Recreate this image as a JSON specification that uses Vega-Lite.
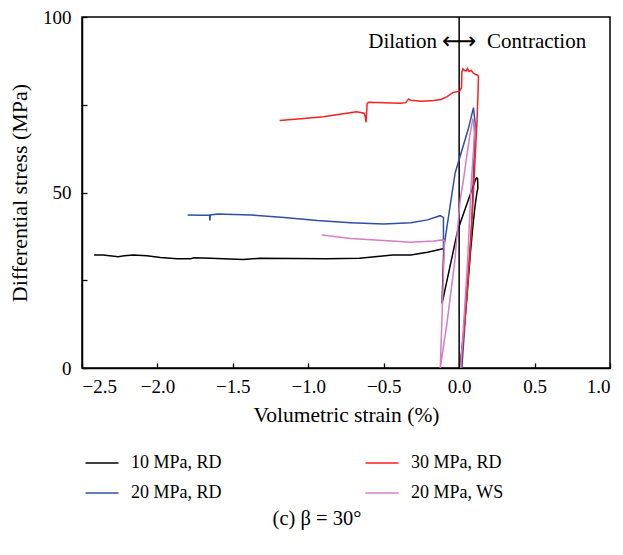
{
  "$schema": "https://vega.github.io/schema/vega-lite/v6.json",
  "width": 528,
  "height": 351,
  "autosize": {"type": "none"},
  "padding": {"left": 82, "top": 17, "right": 13, "bottom": 187},
  "background": "white",
  "config": {
    "font": "Liberation Serif",
    "view": {"stroke": "black", "strokeWidth": 1.5},
    "axis": {
      "grid": false,
      "domainColor": "black",
      "domainWidth": 1.5,
      "tickColor": "black",
      "tickWidth": 1.3,
      "tickSize": -5,
      "labelColor": "black",
      "labelFont": "Liberation Serif",
      "labelFontSize": 19,
      "titleFont": "Liberation Serif",
      "titleFontWeight": "normal",
      "titleColor": "black"
    },
    "legend": {
      "labelFont": "Liberation Serif",
      "labelFontSize": 18,
      "labelColor": "black"
    }
  },
  "title": {
    "text": "(c)  β = 30°",
    "orient": "bottom",
    "anchor": "middle",
    "font": "Liberation Serif",
    "fontSize": 20.5,
    "fontWeight": "normal",
    "color": "black",
    "offset": 7,
    "dx": -29
  },
  "datasets": {
    "curves": [
      {"s": "10 MPa, RD", "i": 1, "x": 0.005, "y": 0},
      {"s": "10 MPa, RD", "i": 2, "x": 0.03, "y": 10},
      {"s": "10 MPa, RD", "i": 3, "x": 0.055, "y": 22},
      {"s": "10 MPa, RD", "i": 4, "x": 0.075, "y": 33},
      {"s": "10 MPa, RD", "i": 5, "x": 0.09, "y": 40},
      {"s": "10 MPa, RD", "i": 6, "x": 0.105, "y": 46},
      {"s": "10 MPa, RD", "i": 7, "x": 0.118, "y": 50},
      {"s": "10 MPa, RD", "i": 8, "x": 0.124, "y": 51.2},
      {"s": "10 MPa, RD", "i": 9, "x": 0.122, "y": 54},
      {"s": "10 MPa, RD", "i": 10, "x": 0.115, "y": 54.2},
      {"s": "10 MPa, RD", "i": 11, "x": 0.108, "y": 53.6},
      {"s": "10 MPa, RD", "i": 12, "x": -0.009, "y": 39.3},
      {"s": "10 MPa, RD", "i": 13, "x": -0.113, "y": 18.4},
      {"s": "10 MPa, RD", "i": 14, "x": -0.102, "y": 33.9},
      {"s": "10 MPa, RD", "i": 15, "x": -0.115, "y": 33.9},
      {"s": "10 MPa, RD", "i": 16, "x": -0.21, "y": 33.0},
      {"s": "10 MPa, RD", "i": 17, "x": -0.32, "y": 32.2},
      {"s": "10 MPa, RD", "i": 18, "x": -0.44, "y": 32.2},
      {"s": "10 MPa, RD", "i": 19, "x": -0.66, "y": 31.3},
      {"s": "10 MPa, RD", "i": 20, "x": -0.88, "y": 31.1},
      {"s": "10 MPa, RD", "i": 21, "x": -1.10, "y": 31.2},
      {"s": "10 MPa, RD", "i": 22, "x": -1.32, "y": 31.3},
      {"s": "10 MPa, RD", "i": 23, "x": -1.43, "y": 30.9},
      {"s": "10 MPa, RD", "i": 24, "x": -1.65, "y": 31.3},
      {"s": "10 MPa, RD", "i": 25, "x": -1.76, "y": 31.4},
      {"s": "10 MPa, RD", "i": 26, "x": -1.78, "y": 31.1},
      {"s": "10 MPa, RD", "i": 27, "x": -1.87, "y": 31.1},
      {"s": "10 MPa, RD", "i": 28, "x": -1.98, "y": 31.5},
      {"s": "10 MPa, RD", "i": 29, "x": -2.07, "y": 32.0},
      {"s": "10 MPa, RD", "i": 30, "x": -2.16, "y": 32.2},
      {"s": "10 MPa, RD", "i": 31, "x": -2.22, "y": 32.0},
      {"s": "10 MPa, RD", "i": 32, "x": -2.26, "y": 31.7},
      {"s": "10 MPa, RD", "i": 33, "x": -2.36, "y": 32.2},
      {"s": "10 MPa, RD", "i": 34, "x": -2.42, "y": 32.2},

      {"s": "20 MPa, RD", "i": 1, "x": 0.018, "y": 0},
      {"s": "20 MPa, RD", "i": 2, "x": 0.04, "y": 13.7},
      {"s": "20 MPa, RD", "i": 3, "x": 0.062, "y": 28},
      {"s": "20 MPa, RD", "i": 4, "x": 0.084, "y": 41.2},
      {"s": "20 MPa, RD", "i": 5, "x": 0.095, "y": 55.4},
      {"s": "20 MPa, RD", "i": 6, "x": 0.106, "y": 69.7},
      {"s": "20 MPa, RD", "i": 7, "x": 0.095, "y": 74.2},
      {"s": "20 MPa, RD", "i": 8, "x": 0.06, "y": 68},
      {"s": "20 MPa, RD", "i": 9, "x": -0.027, "y": 55.5},
      {"s": "20 MPa, RD", "i": 10, "x": -0.104, "y": 33.6},
      {"s": "20 MPa, RD", "i": 11, "x": -0.104, "y": 42.9},
      {"s": "20 MPa, RD", "i": 12, "x": -0.126, "y": 43.4},
      {"s": "20 MPa, RD", "i": 13, "x": -0.21, "y": 42.2},
      {"s": "20 MPa, RD", "i": 14, "x": -0.32, "y": 41.4},
      {"s": "20 MPa, RD", "i": 15, "x": -0.50, "y": 41.0},
      {"s": "20 MPa, RD", "i": 16, "x": -0.72, "y": 41.4},
      {"s": "20 MPa, RD", "i": 17, "x": -0.94, "y": 42.0},
      {"s": "20 MPa, RD", "i": 18, "x": -1.16, "y": 42.9},
      {"s": "20 MPa, RD", "i": 19, "x": -1.38, "y": 43.6},
      {"s": "20 MPa, RD", "i": 20, "x": -1.60, "y": 43.9},
      {"s": "20 MPa, RD", "i": 21, "x": -1.65, "y": 43.6},
      {"s": "20 MPa, RD", "i": 22, "x": -1.652, "y": 42.0},
      {"s": "20 MPa, RD", "i": 23, "x": -1.655, "y": 43.6},
      {"s": "20 MPa, RD", "i": 24, "x": -1.70, "y": 43.5},
      {"s": "20 MPa, RD", "i": 25, "x": -1.80, "y": 43.6},

      {"s": "30 MPa, RD", "i": 1, "x": 0.01, "y": 0},
      {"s": "30 MPa, RD", "i": 2, "x": 0.04, "y": 14.5},
      {"s": "30 MPa, RD", "i": 3, "x": 0.073, "y": 33.5},
      {"s": "30 MPa, RD", "i": 4, "x": 0.095, "y": 50},
      {"s": "30 MPa, RD", "i": 5, "x": 0.106, "y": 60},
      {"s": "30 MPa, RD", "i": 6, "x": 0.118, "y": 70},
      {"s": "30 MPa, RD", "i": 7, "x": 0.125, "y": 78},
      {"s": "30 MPa, RD", "i": 8, "x": 0.128, "y": 83.1},
      {"s": "30 MPa, RD", "i": 9, "x": 0.12, "y": 83.5},
      {"s": "30 MPa, RD", "i": 10, "x": 0.11, "y": 83.6},
      {"s": "30 MPa, RD", "i": 11, "x": 0.095, "y": 84.0},
      {"s": "30 MPa, RD", "i": 12, "x": 0.08, "y": 84.8},
      {"s": "30 MPa, RD", "i": 13, "x": 0.065, "y": 84.5},
      {"s": "30 MPa, RD", "i": 14, "x": 0.055, "y": 85.3},
      {"s": "30 MPa, RD", "i": 15, "x": 0.045, "y": 84.6},
      {"s": "30 MPa, RD", "i": 16, "x": 0.035, "y": 84.8},
      {"s": "30 MPa, RD", "i": 17, "x": 0.025, "y": 85.2},
      {"s": "30 MPa, RD", "i": 18, "x": 0.018, "y": 84.3},
      {"s": "30 MPa, RD", "i": 19, "x": 0.016, "y": 80},
      {"s": "30 MPa, RD", "i": 20, "x": 0.005, "y": 79},
      {"s": "30 MPa, RD", "i": 21, "x": 0.0, "y": 78.8},
      {"s": "30 MPa, RD", "i": 22, "x": -0.04, "y": 78.5},
      {"s": "30 MPa, RD", "i": 23, "x": -0.08, "y": 77.3},
      {"s": "30 MPa, RD", "i": 24, "x": -0.12, "y": 76.5},
      {"s": "30 MPa, RD", "i": 25, "x": -0.17, "y": 76.2},
      {"s": "30 MPa, RD", "i": 26, "x": -0.25, "y": 76.0},
      {"s": "30 MPa, RD", "i": 27, "x": -0.32, "y": 76.3},
      {"s": "30 MPa, RD", "i": 28, "x": -0.335, "y": 76.6},
      {"s": "30 MPa, RD", "i": 29, "x": -0.355, "y": 75.6},
      {"s": "30 MPa, RD", "i": 30, "x": -0.39, "y": 75.4},
      {"s": "30 MPa, RD", "i": 31, "x": -0.5, "y": 75.6},
      {"s": "30 MPa, RD", "i": 32, "x": -0.6, "y": 75.7},
      {"s": "30 MPa, RD", "i": 33, "x": -0.61, "y": 75.3},
      {"s": "30 MPa, RD", "i": 34, "x": -0.617, "y": 70},
      {"s": "30 MPa, RD", "i": 35, "x": -0.622, "y": 71.5},
      {"s": "30 MPa, RD", "i": 36, "x": -0.63, "y": 72.6},
      {"s": "30 MPa, RD", "i": 37, "x": -0.68, "y": 73.0},
      {"s": "30 MPa, RD", "i": 38, "x": -0.8, "y": 72.2},
      {"s": "30 MPa, RD", "i": 39, "x": -0.9, "y": 71.6},
      {"s": "30 MPa, RD", "i": 40, "x": -1.05, "y": 71.0},
      {"s": "30 MPa, RD", "i": 41, "x": -1.19, "y": 70.5},

      {"s": "20 MPa, WS", "i": 1, "x": 0.01, "y": 0},
      {"s": "20 MPa, WS", "i": 2, "x": 0.035, "y": 16},
      {"s": "20 MPa, WS", "i": 3, "x": 0.058, "y": 32},
      {"s": "20 MPa, WS", "i": 4, "x": 0.08, "y": 52.6},
      {"s": "20 MPa, WS", "i": 5, "x": 0.095, "y": 62},
      {"s": "20 MPa, WS", "i": 6, "x": 0.101, "y": 66.9},
      {"s": "20 MPa, WS", "i": 7, "x": 0.095, "y": 70.5},
      {"s": "20 MPa, WS", "i": 8, "x": 0.09, "y": 70.8},
      {"s": "20 MPa, WS", "i": 9, "x": 0.07, "y": 66},
      {"s": "20 MPa, WS", "i": 10, "x": 0.05, "y": 60.2},
      {"s": "20 MPa, WS", "i": 11, "x": 0.03, "y": 54},
      {"s": "20 MPa, WS", "i": 12, "x": 0.007, "y": 47.9},
      {"s": "20 MPa, WS", "i": 13, "x": -0.03, "y": 30},
      {"s": "20 MPa, WS", "i": 14, "x": -0.08, "y": 13},
      {"s": "20 MPa, WS", "i": 15, "x": -0.125, "y": 0},
      {"s": "20 MPa, WS", "i": 16, "x": -0.097, "y": 36.2},
      {"s": "20 MPa, WS", "i": 17, "x": -0.108, "y": 36.5},
      {"s": "20 MPa, WS", "i": 18, "x": -0.17, "y": 36.2},
      {"s": "20 MPa, WS", "i": 19, "x": -0.32, "y": 35.8},
      {"s": "20 MPa, WS", "i": 20, "x": -0.50, "y": 36.3},
      {"s": "20 MPa, WS", "i": 21, "x": -0.72, "y": 36.9},
      {"s": "20 MPa, WS", "i": 22, "x": -0.91, "y": 37.9}
    ]
  },
  "layer": [
    {
      "data": {"values": [{"x": 0}]},
      "mark": {"type": "rule", "color": "black", "strokeWidth": 1.5},
      "encoding": {
        "x": {"field": "x", "type": "quantitative", "scale": {"domain": [-2.5, 1.0], "nice": false}}
      }
    },
    {
      "data": {"name": "curves"},
      "mark": {"type": "line", "strokeWidth": 1.5, "clip": true},
      "encoding": {
        "x": {
          "field": "x",
          "type": "quantitative",
          "scale": {"domain": [-2.5, 1.0], "nice": false},
          "axis": {
            "title": "Volumetric strain (%)",
            "titleFontSize": 21.5,
            "values": [-2.5, -2.25, -2.0, -1.75, -1.5, -1.25, -1.0, -0.75, -0.5, -0.25, 0, 0.25, 0.5, 0.75, 1.0],
            "format": ".1f",
            "labelExpr": "abs(datum.value * 2 - round(datum.value * 2)) < 0.001 ? datum.label : ''",
            "labelPadding": 14,
            "titlePadding": 8
          }
        },
        "y": {
          "field": "y",
          "type": "quantitative",
          "scale": {"domain": [0, 100], "nice": false},
          "axis": {
            "title": "Differential stress (MPa)",
            "titleFontSize": 22,
            "values": [0, 25, 50, 75, 100],
            "labelExpr": "datum.value % 50 == 0 ? datum.label : ''",
            "labelPadding": 16,
            "titlePadding": 11
          }
        },
        "color": {
          "field": "s",
          "type": "nominal",
          "scale": {
            "domain": ["10 MPa, RD", "30 MPa, RD", "20 MPa, RD", "20 MPa, WS"],
            "range": ["#000000", "#FF1E1E", "#2F4FA6", "#D77CC6"]
          },
          "legend": {
            "title": null,
            "orient": "none",
            "legendX": 11,
            "legendY": 437,
            "direction": "horizontal",
            "columns": 2,
            "columnPadding": 140,
            "rowPadding": 12,
            "padding": 0,
            "symbolType": "M-2,0H2",
            "symbolSize": 272,
            "symbolStrokeWidth": 1.5,
            "labelOffset": 20
          }
        },
        "detail": {"field": "s"},
        "order": {"field": "i", "type": "quantitative"}
      }
    },
    {
      "data": {"values": [{"x": -0.146, "y": 92.9, "t": "Dilation"}]},
      "mark": {"type": "text", "fontSize": 21, "align": "right", "baseline": "middle", "color": "black", "font": "Liberation Serif"},
      "encoding": {
        "x": {"field": "x", "type": "quantitative"},
        "y": {"field": "y", "type": "quantitative"},
        "text": {"field": "t"}
      }
    },
    {
      "data": {"values": [{"x": 0.0, "y": 92.9, "t": "⟷"}]},
      "mark": {"type": "text", "fontSize": 24, "align": "center", "baseline": "middle", "color": "black", "font": "DejaVu Sans"},
      "encoding": {
        "x": {"field": "x", "type": "quantitative"},
        "y": {"field": "y", "type": "quantitative"},
        "text": {"field": "t"}
      }
    },
    {
      "data": {"values": [{"x": 0.185, "y": 92.9, "t": "Contraction"}]},
      "mark": {"type": "text", "fontSize": 21, "align": "left", "baseline": "middle", "color": "black", "font": "Liberation Serif"},
      "encoding": {
        "x": {"field": "x", "type": "quantitative"},
        "y": {"field": "y", "type": "quantitative"},
        "text": {"field": "t"}
      }
    }
  ]
}
